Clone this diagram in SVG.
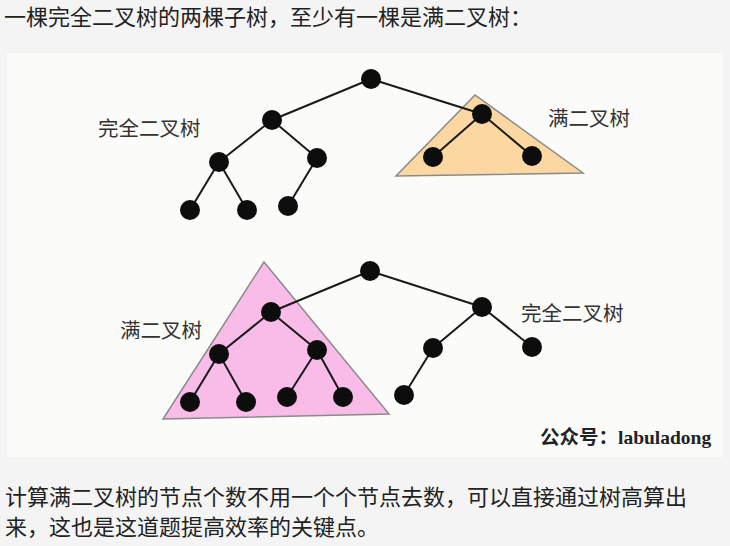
<svg xmlns="http://www.w3.org/2000/svg" width="730" height="546" viewBox="0 0 730 546">
<style>
.page{fill:#f4f4f4}
.img{fill:#fbfbfa}
.edge{stroke:#1a1a1a;stroke-width:2;fill:none}
.node{fill:#0d0d0d}
.tri{stroke:#8a8a8a;stroke-width:1.5}
.lbl{font-family:"Noto Sans CJK SC","Noto Sans",sans-serif;font-size:20.5px;fill:#333}
.txt{font-family:"Noto Sans CJK SC","Noto Sans",sans-serif;font-size:22px;fill:#222}
.wm{font-family:"Liberation Serif","Noto Sans CJK SC",serif;font-size:19.5px;font-weight:bold;fill:#222}
</style>
<rect class="page" x="0" y="0" width="730" height="546"/>
<text class="txt" x="4" y="25">一棵完全二叉树的两棵子树，至少有一棵是满二叉树：</text>
<rect class="img" x="7" y="53" width="716" height="404"/>

<g id="tri-orange"><polygon class="tri" points="475,95 396,176 583,173" fill="#fbd8a1"/></g>
<g id="tri-pink"><polygon class="tri" points="264,262 163,419 389,414" fill="#f9bce9"/></g>

<g id="connectors">
<line class="edge" x1="371" y1="79" x2="272" y2="120"/>
<line class="edge" x1="371" y1="79" x2="482" y2="114"/>
<line class="edge" x1="272" y1="120" x2="219" y2="162"/>
<line class="edge" x1="272" y1="120" x2="317" y2="158"/>
<line class="edge" x1="219" y1="162" x2="190" y2="210"/>
<line class="edge" x1="219" y1="162" x2="247" y2="210"/>
<line class="edge" x1="317" y1="158" x2="288" y2="206"/>
<line class="edge" x1="482" y1="114" x2="433" y2="157"/>
<line class="edge" x1="482" y1="114" x2="532" y2="156"/>

<line class="edge" x1="370" y1="271" x2="271" y2="312"/>
<line class="edge" x1="370" y1="271" x2="482" y2="307"/>
<line class="edge" x1="271" y1="312" x2="219" y2="354"/>
<line class="edge" x1="271" y1="312" x2="317" y2="350"/>
<line class="edge" x1="219" y1="354" x2="190" y2="402"/>
<line class="edge" x1="219" y1="354" x2="246" y2="402"/>
<line class="edge" x1="317" y1="350" x2="287" y2="397"/>
<line class="edge" x1="317" y1="350" x2="343" y2="397"/>
<line class="edge" x1="482" y1="307" x2="433" y2="348"/>
<line class="edge" x1="482" y1="307" x2="532" y2="347"/>
<line class="edge" x1="433" y1="348" x2="404" y2="395"/>
</g>

<g id="t1-root"><circle class="node" cx="371" cy="79" r="10"/></g>
<g id="t1-l"><circle class="node" cx="272" cy="120" r="10"/></g>
<g id="t1-r"><circle class="node" cx="482" cy="114" r="10"/></g>
<g id="t1-ll"><circle class="node" cx="219" cy="162" r="10"/></g>
<g id="t1-lr"><circle class="node" cx="317" cy="158" r="10"/></g>
<g id="t1-lll"><circle class="node" cx="190" cy="210" r="10"/></g>
<g id="t1-llr"><circle class="node" cx="247" cy="210" r="10"/></g>
<g id="t1-lrl"><circle class="node" cx="288" cy="206" r="10"/></g>
<g id="t1-rl"><circle class="node" cx="433" cy="157" r="10"/></g>
<g id="t1-rr"><circle class="node" cx="532" cy="156" r="10"/></g>

<g id="t2-root"><circle class="node" cx="370" cy="271" r="10"/></g>
<g id="t2-l"><circle class="node" cx="271" cy="312" r="10"/></g>
<g id="t2-r"><circle class="node" cx="482" cy="307" r="10"/></g>
<g id="t2-ll"><circle class="node" cx="219" cy="354" r="10"/></g>
<g id="t2-lr"><circle class="node" cx="317" cy="350" r="10"/></g>
<g id="t2-lll"><circle class="node" cx="190" cy="402" r="10"/></g>
<g id="t2-llr"><circle class="node" cx="246" cy="402" r="10"/></g>
<g id="t2-lrl"><circle class="node" cx="287" cy="397" r="10"/></g>
<g id="t2-lrr"><circle class="node" cx="343" cy="397" r="10"/></g>
<g id="t2-rl"><circle class="node" cx="433" cy="348" r="10"/></g>
<g id="t2-rr"><circle class="node" cx="532" cy="347" r="10"/></g>
<g id="t2-rll"><circle class="node" cx="404" cy="395" r="10"/></g>

<g id="labels">
<text class="lbl" x="98" y="136">完全二叉树</text>
<text class="lbl" x="548" y="126">满二叉树</text>
<text class="lbl" x="120" y="338">满二叉树</text>
<text class="lbl" x="521" y="321">完全二叉树</text>
<text class="wm" x="540" y="444">公众号：labuladong</text>
</g>

<text class="txt" x="5" y="505">计算满二叉树的节点个数不用一个个节点去数，可以直接通过树高算出</text>
<text class="txt" x="5" y="535">来，这也是这道题提高效率的关键点。</text>
</svg>
